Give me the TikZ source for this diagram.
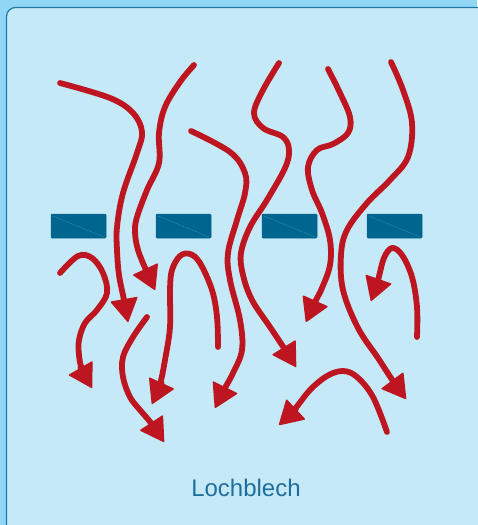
\documentclass[tikz,border=0pt]{standalone}
\usepackage{fontspec}
\setmainfont{Liberation Sans}
\usetikzlibrary{arrows.meta}
\definecolor{outerbg}{HTML}{8FD7F5}
\definecolor{panelbg}{HTML}{C6E9F8}
\definecolor{panelline}{HTML}{1F77A3}
\definecolor{plate}{HTML}{006690}
\definecolor{plateline}{HTML}{3F95BE}
\definecolor{flow}{HTML}{BD1620}
\definecolor{label}{HTML}{1F6F9C}
\tikzset{
  flowarrow/.style={draw=flow, line width=5.8pt, line cap=round, line join=round,
    -{Triangle[length=24pt,width=28pt,line width=1.5pt,round]}},
  platebox/.style={fill=plate, draw=plate, line width=0.5pt, rounded corners=1pt},
}
\begin{document}
\begin{tikzpicture}[x=1pt,y=-1pt]
\useasboundingbox (0,0) rectangle (477,525);
\fill[outerbg] (0,0) rectangle (477,525);
\draw[fill=panelbg, draw=panelline, line width=1.2pt, rounded corners=9pt] (6.5,7.5) rectangle (495,545);
% plates
\foreach \x in {51,156,262,367}{
  \path[platebox] (\x,214) rectangle ++(55,24);
  \draw[plateline, line width=0.4pt, dash pattern=on 1pt off 0.6pt] (\x+2,216) -- (\x+53,237);
}
% curves from above
\draw[flowarrow] plot[smooth, tension=0.6] coordinates {(60,83) (110,98) (133,113) (142,132) (137,153) (123,193) (117,227) (117,250) (119,275) (124,300) (128,322)};
\draw[flowarrow] plot[smooth, tension=0.6] coordinates {(194,65) (180,82) (165,107) (159,133) (159,163) (147,190) (137,217) (135,232) (138,250) (146,270) (155,290)};
\draw[flowarrow] plot[smooth, tension=0.6] coordinates {(191,131) (230,152) (245,173) (245,193) (237,220) (228,253) (230,280) (240,320) (242,350) (233,373) (225,388) (215,408)};
\draw[flowarrow] plot[smooth, tension=0.6] coordinates {(279,63) (263,90) (254,113) (263,128) (283,137) (289,150) (285,168) (267,200) (250,227) (241,253) (243,275) (252,300) (270,327) (284,348) (296,367)};
\draw[flowarrow] plot[smooth, tension=0.6] coordinates {(328,69) (340,93) (350,117) (348,133) (333,144) (317,150) (308,167) (312,190) (322,213) (330,240) (330,265) (322,288) (315,302) (306,322)};
\draw[flowarrow] plot[smooth, tension=0.6] coordinates {(391,62) (403,90) (412,123) (408,157) (390,180) (367,203) (347,230) (341,255) (343,290) (358,328) (378,358) (393,381) (406,399)};
% curves below the plates
\draw[flowarrow] plot[smooth, tension=0.6] coordinates {(60,273) (78,256) (92,258) (103,273) (107,293) (97,310) (85,323) (79,340) (79,355) (82,369) (92,388)};
\draw[flowarrow] plot[smooth, tension=0.6] coordinates {(147,317) (133,337) (123,357) (123,377) (130,397) (140,410) (151,423) (164,442)};
\draw[flowarrow] plot[smooth, tension=0.6] coordinates {(218,347) (217,317) (212,290) (200,263) (190,254) (180,256) (172,270) (170,290) (170,327) (165,360) (160,384) (152,404)};
\draw[flowarrow] plot[smooth, tension=0.6] coordinates {(417,337) (417,307) (412,277) (402,255) (392,248) (384,258) (378,280) (371,301)};
\draw[flowarrow] plot[smooth, tension=0.6] coordinates {(387,432) (373,397) (357,377) (343,371) (327,376) (310,390) (294,410) (279,425)};
\node[text=label, font=\fontsize{24}{28}\selectfont, inner sep=0pt] (lbl) at (246,488) {Lochblech};
\end{tikzpicture}
\end{document}
